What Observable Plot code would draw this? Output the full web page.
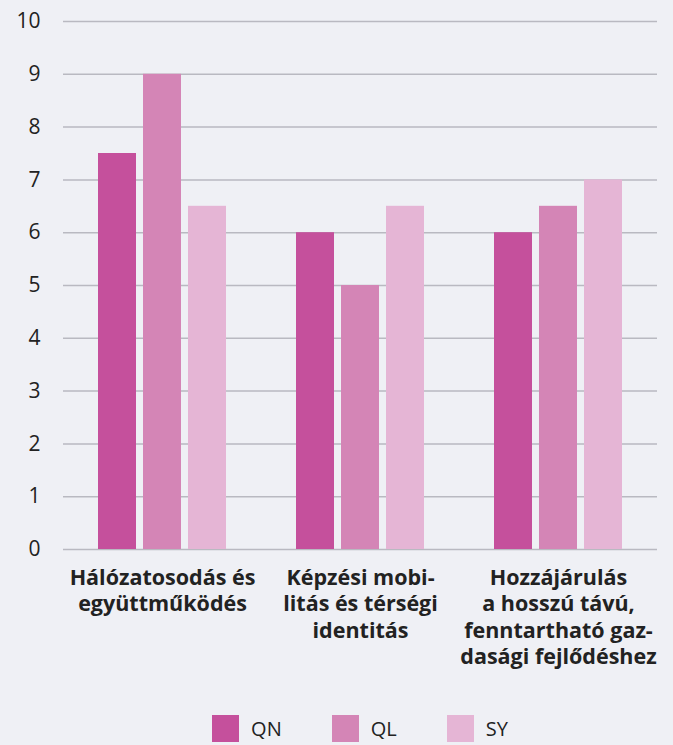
<!DOCTYPE html>
<html>
<head>
<meta charset="utf-8">
<script src="https://cdn.jsdelivr.net/npm/d3@7"></script>
<script src="https://cdn.jsdelivr.net/npm/@observablehq/plot@0.6"></script>
<style>
  html, body { margin: 0; padding: 0; background: #eff0f5; }
  #chart { width: 673px; height: 745px; background: #eff0f5; font-family: "Open Sans", sans-serif; }
  #legend { margin-top: 22px; padding-left: 63px; padding-right: 16px; display: flex; justify-content: center; }
  .lg-swatches { font-family: "Open Sans", sans-serif !important; font-size: 20px !important; color: #222 !important; margin: 0 !important; }
  .lg-swatch { margin-right: 50px !important; }
  .lg-swatch:last-child { margin-right: 0 !important; }
  .lg-swatch > svg { margin-right: 12px !important; }
</style>
</head>
<body>
<div id="chart"></div>
<script>
const categories = ["Hálózatosodás és együttműködés", "Képzési mobilitás és térségi identitás", "Hozzájárulás a hosszú távú, fenntartható gazdasági fejlődéshez"];
const categoryLabels = ["Hálózatosodás és\negyüttműködés", "Képzési mobi-\nlitás és térségi\nidentitás", "Hozzájárulás\na hosszú távú,\nfenntartható gaz-\ndasági fejlődéshez"];
const series = ["QN", "QL", "SY"];
const qn = [7.5, 6, 6];
const ql = [9, 5, 6.5];
const sy = [6.5, 6.5, 7];
const colors = ["#c5509c", "#d485b6", "#e5b5d5"];
const yTicks = [0, 1, 2, 3, 4, 5, 6, 7, 8, 9, 10];

const seriesValues = [qn, ql, sy];
const rows = [];
categories.forEach((c, i) => {
  series.forEach((s, j) => rows.push({category: c, series: s, value: seriesValues[j][i]}));
});

const plot = Plot.plot({
  width: 673,
  height: 690,
  marginTop: 21,
  marginBottom: 141,
  marginLeft: 63,
  marginRight: 16,
  style: {background: "transparent", fontFamily: "Open Sans, sans-serif"},
  fx: {domain: categories, padding: 0, axis: null},
  x: {domain: series, paddingInner: 0.157, paddingOuter: 0.745, axis: null},
  y: {domain: [0, 10], ticks: yTicks, axis: null},
  color: {domain: series, range: colors},
  marks: [
    Plot.gridY(yTicks, {stroke: "#b9b9c1", strokeOpacity: 1, strokeWidth: 1.5}),
    Plot.barY(rows, {fx: "category", x: "series", y: "value", fill: "series"}),
    Plot.axisY(yTicks, {tickSize: 0, tickPadding: 23, fontSize: 21, fill: "#222", label: null, facetAnchor: "left", tickFormat: d => String(d)}),
    Plot.text(categories, {fx: d => d, text: (d, i) => categoryLabels[i], frameAnchor: "bottom", lineAnchor: "top", dy: 17, lineHeight: 1.22, fontSize: 21.5, fontWeight: "bold", fill: "#222"})
  ]
});

const chart = document.getElementById("chart");
chart.appendChild(plot);
const legendDiv = document.createElement("div");
legendDiv.id = "legend";
legendDiv.appendChild(plot.legend("color", {swatchSize: 27, className: "lg"}));
chart.appendChild(legendDiv);
</script>
</body>
</html>
